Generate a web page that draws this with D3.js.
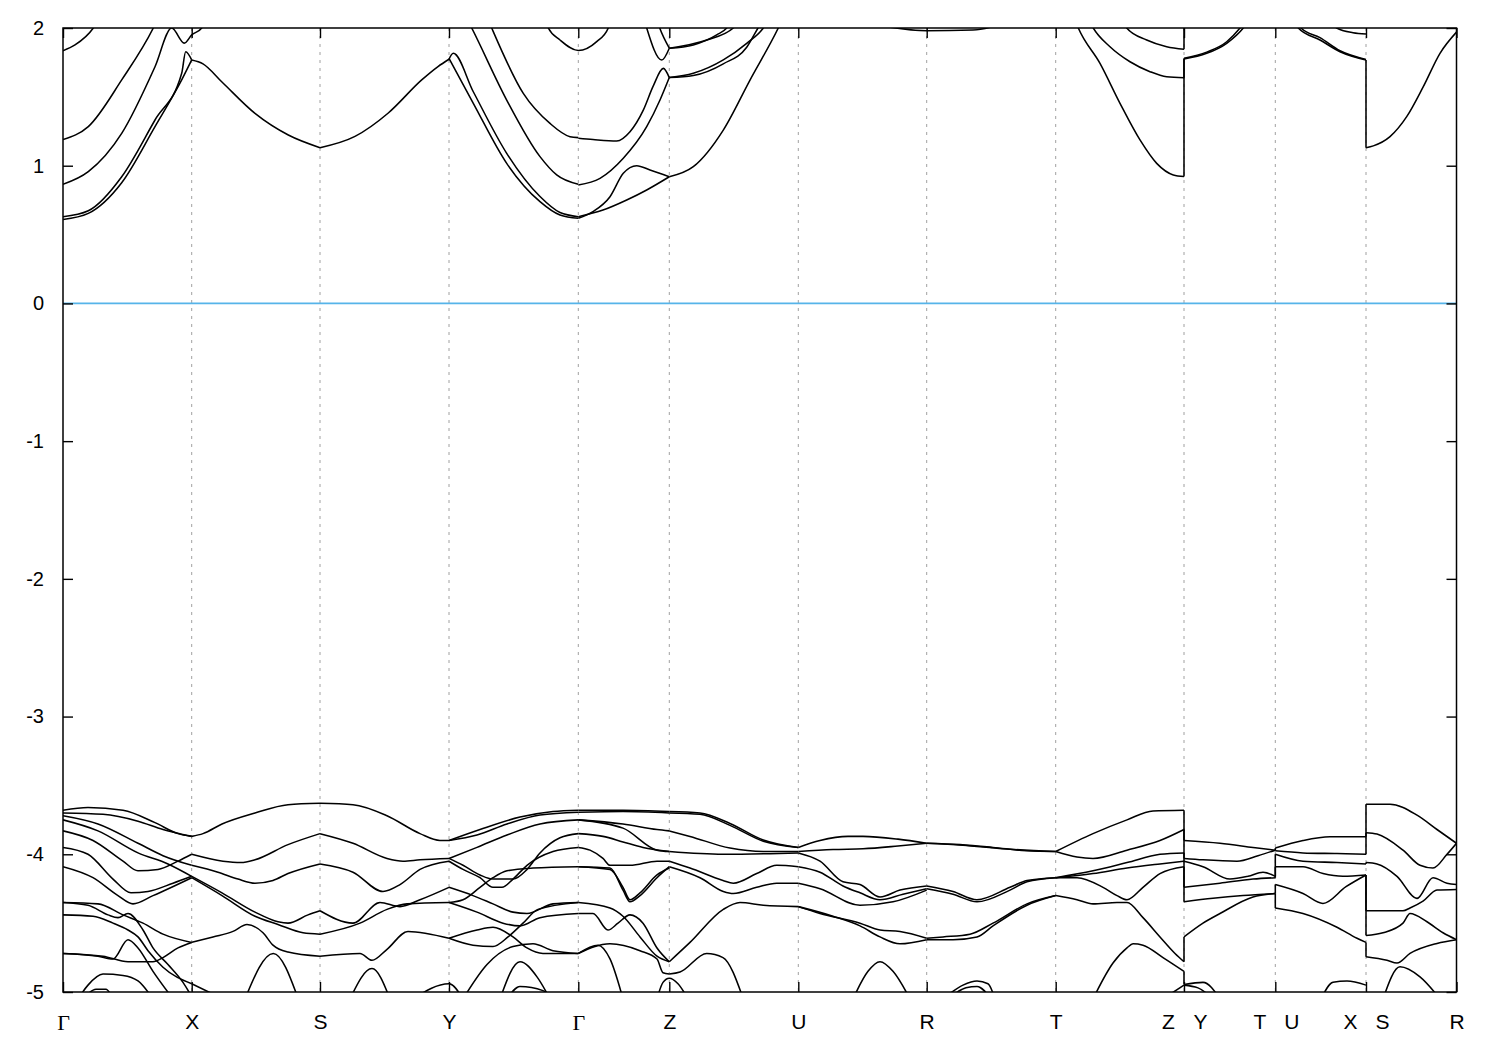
<!DOCTYPE html>
<html><head><meta charset="utf-8">
<script src="https://cdn.jsdelivr.net/npm/d3@7"></script>
<style>body{margin:0;background:#fff}svg{display:block}</style>
</head><body>
<svg id="chart" width="1500" height="1050"></svg>
<script>
// ---- axis data ----
const kTicks = [0, 0.1287, 0.257, 0.386, 0.5153, 0.6063, 0.7353, 0.8637, 0.9927, 1.121, 1.2123, 1.303, 1.3935];
const kLabels = ["Γ","X","S","Y","Γ","Z","U","R","T","Z|Y","T|U","X|S","R"];
const eTicks = [-5,-4,-3,-2,-1,0,1,2];

// ---- conduction bands: [k, E(eV)] ----
const condGX = [
 [[0,0.63],[0.0253,0.673],[0.0587,0.92],[0.092,1.332],[0.1187,1.671],[0.1227,1.828],[0.1287,1.768]],
 [[0,0.61],[0.0253,0.654],[0.0587,0.877],[0.092,1.284],[0.1187,1.623],[0.1287,1.768]],
 [[0,0.865],[0.0253,0.957],[0.0587,1.235],[0.092,1.719],[0.1087,2.0],[0.1213,1.89],[0.1287,1.95],[0.1387,2.0],[0.146,2.1]],
 [[0,1.19],[0.0253,1.284],[0.0587,1.623],[0.0903,2.0],[0.1,2.15]],
 [[0,1.835],[0.012,1.877],[0.0303,2.0],[0.04,2.12]]
];
const condXSY = [
 [[0.1287,1.768],[0.14,1.74],[0.1587,1.61],[0.192,1.38],[0.2253,1.223],[0.257,1.131]],
 [[0.257,1.131],[0.292,1.213],[0.3253,1.383],[0.3587,1.623],[0.375,1.72],[0.386,1.773]]
];
const condYG = [
 [[0.386,1.773],[0.3903,1.816],[0.4103,1.537],[0.4437,1.09],[0.477,0.776],[0.497,0.66],[0.5153,0.63]],
 [[0.386,1.779],[0.4103,1.453],[0.4437,1.017],[0.477,0.739],[0.497,0.642],[0.5153,0.618]],
 [[0.398,2.15],[0.4087,2.0],[0.4437,1.477],[0.477,1.066],[0.4937,0.933],[0.5153,0.865]],
 [[0.42,2.15],[0.4287,2.0],[0.4603,1.525],[0.487,1.307],[0.507,1.211],[0.5153,1.204]],
 [[0.478,2.15],[0.4853,2.0],[0.497,1.913],[0.5153,1.836],[0.5337,1.901],[0.5453,2.0],[0.552,2.15]]
];
const condGZU = [
 [[0.5153,0.618],[0.53,0.667],[0.547,0.775],[0.5603,0.945],[0.5737,1.0],[0.587,0.969],[0.6063,0.92]],
 [[0.5153,0.63],[0.54,0.678],[0.5637,0.751],[0.5837,0.824],[0.6063,0.92]],
 [[0.5153,0.86],[0.537,0.908],[0.5603,1.054],[0.5837,1.283],[0.597,1.477],[0.6063,1.64]],
 [[0.5153,1.199],[0.53,1.19],[0.5537,1.18],[0.567,1.247],[0.5803,1.404],[0.5903,1.58],[0.6003,1.707],[0.6063,1.64]],
 [[0.578,2.15],[0.5837,2.0],[0.5987,1.767],[0.6063,1.853]],
 [[0.59,2.15],[0.5967,2.0],[0.6063,1.853]],
 [[0.6063,0.92],[0.6303,0.993],[0.6603,1.259],[0.687,1.622],[0.7153,2.0],[0.725,2.15]],
 [[0.6063,1.64],[0.6303,1.671],[0.6603,1.768],[0.6837,1.889],[0.7003,2.0],[0.71,2.12]],
 [[0.6063,1.64],[0.6303,1.655],[0.6603,1.74],[0.6837,1.86],[0.695,2.0],[0.705,2.12]],
 [[0.6063,1.853],[0.6437,1.913],[0.6703,2.0],[0.68,2.08]],
 [[0.6063,1.853],[0.6303,1.877],[0.6537,1.95],[0.6637,2.0],[0.672,2.1]],
 [[0.815,2.02],[0.8637,1.98],[0.91,1.985],[0.935,2.02]]
];
const condTZ = [
 [[1.005,2.2],[1.0153,2.0],[1.037,1.743],[1.057,1.453],[1.077,1.187],[1.0937,1.017],[1.1103,0.933],[1.121,0.921]],
 [[1.022,2.12],[1.0303,2.0],[1.047,1.864],[1.067,1.755],[1.087,1.683],[1.1037,1.646],[1.121,1.639]],
 [[1.055,2.1],[1.0637,2.0],[1.0837,1.913],[1.1037,1.864],[1.121,1.845]]
];
const condYTUXSR = [
 [[1.121,1.775],[1.1437,1.816],[1.1637,1.889],[1.1803,2.0],[1.19,2.1]],
 [[1.121,1.78],[1.1437,1.825],[1.1637,1.90],[1.177,2.0],[1.187,2.1]],
 [[1.121,2.2],[1.13,2.3]],
 [[1.225,2.15],[1.2353,2.0],[1.257,1.913],[1.277,1.828],[1.303,1.768]],
 [[1.228,2.15],[1.238,2.0],[1.257,1.93],[1.277,1.835],[1.303,1.772]],
 [[1.265,2.08],[1.2737,2.0],[1.29,1.966],[1.303,1.957]],
 [[1.303,1.131],[1.3103,1.144],[1.327,1.211],[1.3437,1.356],[1.3603,1.574],[1.377,1.816],[1.3935,1.97]]
];

// ---- valence bands: [k, E(eV)] ----
const valGX = [
 [[0,-3.68],[0.025,-3.66],[0.06,-3.68],[0.092,-3.77],[0.115,-3.85],[0.1287,-3.87]],
 [[0,-3.70],[0.04,-3.71],[0.075,-3.76],[0.10,-3.82],[0.1287,-3.87]],
 [[0,-3.72],[0.035,-3.78],[0.075,-3.92],[0.10,-4.01],[0.1287,-4.08]],
 [[0,-3.75],[0.035,-3.83],[0.075,-3.99],[0.105,-4.07],[0.1287,-4.16]],
 [[0,-3.83],[0.03,-3.90],[0.06,-4.05],[0.075,-4.12],[0.095,-4.11],[0.115,-4.05],[0.1287,-4.00]],
 [[0,-3.95],[0.025,-4.00],[0.05,-4.18],[0.068,-4.28],[0.085,-4.27],[0.11,-4.21],[0.1287,-4.16]],
 [[0,-4.09],[0.03,-4.17],[0.055,-4.30],[0.07,-4.36],[0.09,-4.30],[0.1287,-4.17]],
 [[0,-4.35],[0.035,-4.36],[0.06,-4.44],[0.08,-4.50],[0.10,-4.58],[0.1287,-4.64]],
 [[0,-4.35],[0.025,-4.37],[0.045,-4.44],[0.055,-4.46],[0.065,-4.43],[0.08,-4.55],[0.09,-4.68],[0.105,-4.80],[0.12,-4.93],[0.13,-5.05]],
 [[0,-4.44],[0.03,-4.45],[0.05,-4.50],[0.065,-4.55],[0.075,-4.60],[0.085,-4.70],[0.10,-4.82],[0.1287,-4.94]],
 [[0,-4.72],[0.035,-4.74],[0.05,-4.76],[0.065,-4.62],[0.075,-4.68],[0.09,-4.85],[0.11,-5.05]],
 [[0,-4.72],[0.04,-4.74],[0.065,-4.78],[0.09,-4.78],[0.10,-4.75],[0.115,-4.68],[0.1287,-4.64]],
 [[0.015,-5.05],[0.025,-4.95],[0.04,-4.87],[0.06,-4.88],[0.075,-4.92],[0.09,-5.05]],
 [[0.02,-5.05],[0.033,-4.98],[0.043,-4.98],[0.05,-5.05]]
];
const valXS = [
 [[0.1287,-3.87],[0.14,-3.85],[0.159,-3.78],[0.192,-3.70],[0.225,-3.64],[0.257,-3.63]],
 [[0.1287,-4.00],[0.16,-4.05],[0.178,-4.06],[0.192,-4.04],[0.225,-3.93],[0.257,-3.85]],
 [[0.1287,-4.08],[0.155,-4.13],[0.175,-4.18],[0.192,-4.21],[0.21,-4.19],[0.225,-4.14],[0.257,-4.07]],
 [[0.1287,-4.16],[0.159,-4.28],[0.192,-4.42],[0.215,-4.49],[0.225,-4.50],[0.245,-4.44],[0.257,-4.41]],
 [[0.1287,-4.17],[0.159,-4.30],[0.192,-4.45],[0.215,-4.51],[0.24,-4.57],[0.257,-4.58]],
 [[0.1287,-4.64],[0.15,-4.60],[0.17,-4.56],[0.184,-4.51],[0.20,-4.57],[0.21,-4.66],[0.225,-4.71],[0.257,-4.74]],
 [[0.182,-5.05],[0.2103,-4.72],[0.2353,-5.05]],
 [[0.1287,-4.94],[0.16,-5.05]]
];
const valSY = [
 [[0.257,-3.63],[0.29,-3.64],[0.324,-3.72],[0.357,-3.85],[0.377,-3.90],[0.386,-3.90]],
 [[0.257,-3.85],[0.29,-3.92],[0.324,-4.03],[0.34,-4.05],[0.357,-4.04],[0.386,-4.03]],
 [[0.257,-4.07],[0.29,-4.13],[0.32,-4.27],[0.337,-4.22],[0.357,-4.11],[0.386,-4.05]],
 [[0.257,-4.41],[0.29,-4.50],[0.317,-4.35],[0.337,-4.38],[0.357,-4.33],[0.386,-4.24]],
 [[0.257,-4.58],[0.297,-4.50],[0.324,-4.40],[0.344,-4.36],[0.386,-4.35]],
 [[0.257,-4.74],[0.297,-4.72],[0.309,-4.77],[0.324,-4.69],[0.345,-4.56],[0.386,-4.61]],
 [[0.287,-5.05],[0.309,-4.83],[0.327,-5.05]],
 [[0.35,-5.05],[0.386,-4.94],[0.40,-5.05]]
];
const valYG = [
 [[0.386,-3.90],[0.417,-3.82],[0.457,-3.73],[0.49,-3.69],[0.5153,-3.68]],
 [[0.386,-3.90],[0.414,-3.86],[0.444,-3.78],[0.477,-3.715],[0.5153,-3.695]],
 [[0.386,-4.03],[0.414,-3.95],[0.444,-3.86],[0.477,-3.78],[0.5153,-3.75]],
 [[0.386,-4.03],[0.40,-4.08],[0.417,-4.15],[0.43,-4.18],[0.45,-4.18],[0.464,-4.11],[0.477,-3.99],[0.497,-3.88],[0.5153,-3.85]],
 [[0.386,-4.05],[0.40,-4.11],[0.417,-4.17],[0.43,-4.24],[0.439,-4.24],[0.45,-4.18],[0.464,-4.08],[0.49,-3.98],[0.5153,-3.95]],
 [[0.386,-4.35],[0.40,-4.33],[0.417,-4.24],[0.43,-4.17],[0.444,-4.12],[0.47,-4.10],[0.5153,-4.09]],
 [[0.386,-4.24],[0.41,-4.30],[0.43,-4.36],[0.45,-4.42],[0.464,-4.43],[0.49,-4.36],[0.5153,-4.35]],
 [[0.386,-4.35],[0.414,-4.42],[0.44,-4.50],[0.457,-4.52],[0.477,-4.46],[0.5153,-4.43]],
 [[0.386,-4.61],[0.414,-4.55],[0.43,-4.53],[0.45,-4.60],[0.464,-4.68],[0.48,-4.72],[0.5153,-4.72]],
 [[0.386,-4.61],[0.41,-4.66],[0.43,-4.67],[0.445,-4.60],[0.46,-4.50],[0.475,-4.40],[0.5153,-4.35]],
 [[0.40,-5.05],[0.424,-4.80],[0.45,-4.67],[0.47,-4.65],[0.49,-4.70],[0.5153,-4.72]],
 [[0.437,-5.05],[0.457,-4.78],[0.474,-4.89],[0.487,-5.05]],
 [[0.444,-5.05],[0.457,-4.96],[0.48,-4.99],[0.49,-5.05]]
];
const valGZ = [
 [[0.5153,-3.68],[0.56,-3.68],[0.6063,-3.69]],
 [[0.5153,-3.695],[0.56,-3.69],[0.6063,-3.70]],
 [[0.5153,-3.75],[0.56,-3.78],[0.594,-3.82],[0.6063,-3.83]],
 [[0.5153,-3.75],[0.56,-3.81],[0.594,-3.97],[0.6063,-3.98]],
 [[0.5153,-3.85],[0.54,-3.87],[0.56,-3.91],[0.58,-3.95],[0.6063,-3.98]],
 [[0.5153,-3.95],[0.527,-3.97],[0.54,-4.03],[0.547,-4.08],[0.567,-4.08],[0.594,-4.05],[0.6063,-4.05]],
 [[0.5153,-4.09],[0.547,-4.10],[0.56,-4.26],[0.567,-4.345],[0.577,-4.30],[0.594,-4.17],[0.6063,-4.09]],
 [[0.5153,-4.09],[0.547,-4.11],[0.56,-4.24],[0.567,-4.33],[0.577,-4.28],[0.594,-4.15],[0.6063,-4.10]],
 [[0.5153,-4.35],[0.547,-4.39],[0.56,-4.45],[0.577,-4.60],[0.594,-4.74],[0.6063,-4.78]],
 [[0.5153,-4.43],[0.53,-4.43],[0.545,-4.55],[0.555,-4.50],[0.567,-4.44],[0.58,-4.50],[0.594,-4.68],[0.6063,-4.78]],
 [[0.5153,-4.72],[0.547,-4.65],[0.577,-4.70],[0.594,-4.76],[0.60,-4.86],[0.6063,-4.87]],
 [[0.5153,-4.72],[0.535,-4.66],[0.547,-4.76],[0.56,-5.05]],
 [[0.594,-5.05],[0.60,-4.93],[0.6063,-4.90],[0.615,-4.94],[0.625,-5.05]]
];
const valZU = [
 [[0.6063,-3.69],[0.637,-3.70],[0.667,-3.776],[0.7003,-3.897],[0.7353,-3.95]],
 [[0.6063,-3.70],[0.637,-3.71],[0.667,-3.79],[0.7003,-3.905],[0.7353,-3.95]],
 [[0.6063,-3.83],[0.627,-3.87],[0.667,-3.955],[0.7003,-3.98],[0.7353,-3.98]],
 [[0.6063,-3.98],[0.66,-4.0],[0.7353,-3.99]],
 [[0.6063,-4.05],[0.627,-4.10],[0.66,-4.19],[0.6703,-4.21],[0.6937,-4.14],[0.7137,-4.08],[0.7353,-4.09]],
 [[0.6063,-4.09],[0.637,-4.17],[0.6603,-4.27],[0.6703,-4.285],[0.6937,-4.24],[0.7137,-4.21],[0.7353,-4.21]],
 [[0.6063,-4.78],[0.627,-4.64],[0.6603,-4.40],[0.677,-4.35],[0.7003,-4.37],[0.7353,-4.38]],
 [[0.6063,-4.87],[0.617,-4.855],[0.6437,-4.72],[0.66,-4.75],[0.6803,-5.05]]
];
const valUR = [
 [[0.7353,-3.95],[0.757,-3.90],[0.785,-3.87],[0.80,-3.87],[0.835,-3.89],[0.8637,-3.92]],
 [[0.7353,-3.98],[0.77,-3.965],[0.80,-3.96],[0.835,-3.94],[0.8637,-3.92]],
 [[0.7353,-3.99],[0.757,-4.05],[0.78,-4.20],[0.797,-4.22],[0.817,-4.31],[0.837,-4.26],[0.8637,-4.23]],
 [[0.7353,-4.09],[0.757,-4.13],[0.78,-4.23],[0.797,-4.28],[0.817,-4.33],[0.84,-4.29],[0.8637,-4.25]],
 [[0.7353,-4.21],[0.757,-4.25],[0.797,-4.37],[0.83,-4.345],[0.8637,-4.26]],
 [[0.7353,-4.38],[0.757,-4.43],[0.797,-4.50],[0.817,-4.55],[0.837,-4.56],[0.8637,-4.61]],
 [[0.7353,-4.38],[0.77,-4.45],[0.797,-4.52],[0.817,-4.60],[0.837,-4.65],[0.8637,-4.62]],
 [[0.79,-5.05],[0.805,-4.85],[0.817,-4.78],[0.83,-4.85],[0.847,-5.05]]
];
const valRT = [
 [[0.8637,-3.92],[0.897,-3.93],[0.93,-3.95],[0.964,-3.975],[0.9927,-3.98]],
 [[0.8637,-3.92],[0.90,-3.935],[0.94,-3.96],[0.9927,-3.98]],
 [[0.8637,-4.23],[0.89,-4.27],[0.914,-4.33],[0.947,-4.24],[0.964,-4.19],[0.9927,-4.17]],
 [[0.8637,-4.25],[0.89,-4.29],[0.914,-4.345],[0.947,-4.26],[0.964,-4.20],[0.9927,-4.17]],
 [[0.8637,-4.61],[0.88,-4.60],[0.907,-4.58],[0.93,-4.50],[0.964,-4.36],[0.9927,-4.30]],
 [[0.8637,-4.62],[0.89,-4.62],[0.914,-4.60],[0.93,-4.52],[0.964,-4.37],[0.9927,-4.30]],
 [[0.88,-5.05],[0.90,-4.95],[0.914,-4.92],[0.925,-4.94],[0.932,-5.05]],
 [[0.885,-5.05],[0.903,-4.97],[0.914,-4.96],[0.928,-5.05]]
];
const valTZ = [
 [[0.9927,-3.98],[1.03,-3.85],[1.064,-3.75],[1.09,-3.685],[1.121,-3.68]],
 [[0.9927,-3.98],[1.014,-4.02],[1.03,-4.03],[1.064,-3.97],[1.097,-3.90],[1.121,-3.82]],
 [[0.9927,-4.17],[1.03,-4.12],[1.064,-4.06],[1.097,-4.00],[1.121,-3.99]],
 [[0.9927,-4.17],[1.03,-4.14],[1.064,-4.10],[1.097,-4.07],[1.121,-4.05]],
 [[0.9927,-4.17],[1.014,-4.17],[1.04,-4.24],[1.054,-4.30],[1.064,-4.33],[1.08,-4.24],[1.097,-4.14],[1.121,-4.09]],
 [[0.9927,-4.30],[1.014,-4.33],[1.03,-4.36],[1.054,-4.35],[1.064,-4.35],[1.08,-4.46],[1.097,-4.60],[1.112,-4.72],[1.121,-4.78]],
 [[1.03,-5.05],[1.05,-4.79],[1.064,-4.68],[1.07,-4.65],[1.08,-4.66],[1.10,-4.75],[1.121,-4.85]],
 [[1.10,-5.05],[1.121,-4.95]]
];
const valYT = [
 [[1.121,-3.90],[1.157,-3.92],[1.19,-3.95],[1.2123,-3.97]],
 [[1.121,-4.03],[1.14,-4.04],[1.174,-4.05],[1.195,-4.01],[1.2123,-3.97]],
 [[1.121,-4.05],[1.14,-4.09],[1.167,-4.18],[1.185,-4.16],[1.20,-4.13],[1.2123,-4.16]],
 [[1.121,-4.24],[1.157,-4.21],[1.19,-4.18],[1.2123,-4.17]],
 [[1.121,-4.345],[1.15,-4.32],[1.18,-4.30],[1.2123,-4.285]],
 [[1.121,-4.60],[1.14,-4.50],[1.157,-4.43],[1.19,-4.31],[1.2123,-4.285]],
 [[1.121,-4.945],[1.14,-4.93],[1.157,-5.05]],
 [[1.121,-4.95],[1.135,-4.97],[1.15,-5.05]]
];
const valUX = [
 [[1.2123,-3.955],[1.24,-3.90],[1.267,-3.873],[1.303,-3.873]],
 [[1.2123,-3.975],[1.24,-3.99],[1.274,-3.995],[1.303,-4.0]],
 [[1.2123,-4.0],[1.24,-4.05],[1.274,-4.06],[1.303,-4.07]],
 [[1.2123,-4.09],[1.24,-4.09],[1.26,-4.14],[1.28,-4.16],[1.303,-4.15]],
 [[1.2123,-4.22],[1.24,-4.285],[1.26,-4.357],[1.283,-4.235],[1.303,-4.15]],
 [[1.2123,-4.39],[1.24,-4.43],[1.274,-4.53],[1.294,-4.61],[1.303,-4.64]],
 [[1.258,-5.05],[1.27,-4.93],[1.284,-4.92],[1.303,-4.95]]
];
const valSR = [
 [[1.303,-3.636],[1.327,-3.636],[1.354,-3.716],[1.374,-3.82],[1.3935,-3.92]],
 [[1.303,-3.843],[1.314,-3.853],[1.34,-3.97],[1.357,-4.08],[1.37,-4.10],[1.384,-4.0],[1.3935,-3.92]],
 [[1.303,-4.06],[1.314,-4.07],[1.334,-4.16],[1.354,-4.32],[1.37,-4.17],[1.384,-4.21],[1.3935,-4.22]],
 [[1.303,-4.41],[1.34,-4.41],[1.347,-4.39],[1.36,-4.34],[1.374,-4.26],[1.3935,-4.255]],
 [[1.303,-4.59],[1.32,-4.57],[1.34,-4.50],[1.347,-4.43],[1.364,-4.49],[1.38,-4.57],[1.3935,-4.62]],
 [[1.303,-4.744],[1.324,-4.77],[1.334,-4.79],[1.347,-4.72],[1.374,-4.647],[1.3935,-4.62]],
 [[1.32,-5.05],[1.337,-4.817],[1.357,-4.89],[1.377,-5.05]]
];

// ---- drawing ----
const L = 63, R = 1456.5, T = 28, B = 992;
const x = d3.scaleLinear().domain([0, kTicks[kTicks.length - 1]]).range([L, R]);
const y = d3.scaleLinear().domain([-5, 2]).range([B, T]);
const svg = d3.select('#chart');
svg.append('rect').attr('width',1500).attr('height',1050).attr('fill','#fff');
svg.append('defs').append('clipPath').attr('id','clip')
  .append('rect').attr('x',L).attr('y',T).attr('width',R-L).attr('height',B-T);

// grid
svg.append('g').selectAll('line').data(kTicks.slice(1,-1)).join('line')
  .attr('x1',d=>x(d)).attr('x2',d=>x(d)).attr('y1',T).attr('y2',B)
  .attr('stroke','#a0a0a0').attr('stroke-width',1).attr('stroke-dasharray','3,5');

// Fermi level
svg.append('line').attr('x1',L).attr('x2',R).attr('y1',y(0)).attr('y2',y(0))
  .attr('stroke','#56b4e9').attr('stroke-width',1.7);

const allBands = [].concat(condGX, condXSY, condYG, condGZU, condTZ, condYTUXSR,
  valGX, valXS, valSY, valYG, valGZ, valZU, valUR, valRT, valTZ, valYT, valUX, valSR);

const line = d3.line().x(d=>x(d[0])).y(d=>y(d[1])).curve(d3.curveMonotoneX);
const gb = svg.append('g').attr('clip-path','url(#clip)');
gb.selectAll('path.band').data(allBands).join('path').attr('class','band')
  .attr('d', line).attr('fill','none').attr('stroke','#000')
  .attr('stroke-width',1.55).attr('stroke-linejoin','round');

// vertical connectors at path discontinuities (band index order)
const jumps = [kTicks[9], kTicks[10], kTicks[11]];
const conn = [];
jumps.forEach(kj => {
  const ends = allBands.filter(b => Math.abs(b[b.length-1][0]-kj) < 1e-6).map(b => b[b.length-1][1]);
  const starts = allBands.filter(b => Math.abs(b[0][0]-kj) < 1e-6).map(b => b[0][1]);
  const ce = ends.filter(e=>e>0).sort((a,b)=>a-b), cs = starts.filter(e=>e>0).sort((a,b)=>a-b);
  const ve = ends.filter(e=>e<0).sort((a,b)=>b-a), vs = starts.filter(e=>e<0).sort((a,b)=>b-a);
  for (let i=0;i<Math.min(ce.length,cs.length);i++) conn.push([kj,ce[i],cs[i]]);
  for (let i=0;i<Math.min(ve.length,vs.length);i++) conn.push([kj,ve[i],vs[i]]);
});
gb.selectAll('line.conn').data(conn).join('line').attr('class','conn')
  .attr('x1',d=>x(d[0])).attr('x2',d=>x(d[0])).attr('y1',d=>y(d[1])).attr('y2',d=>y(d[2]))
  .attr('stroke','#000').attr('stroke-width',1.55);

// axes
const fontSans = "'Liberation Sans', Arial, sans-serif";
const yAxisL = svg.append('g').attr('transform',`translate(${L},0)`)
  .call(d3.axisLeft(y).tickValues(eTicks).tickSize(-10).tickPadding(19).tickFormat(d => String(d)));
const yAxisR = svg.append('g').attr('transform',`translate(${R},0)`)
  .call(d3.axisRight(y).tickValues(eTicks).tickSize(-10).tickFormat(''));
const xAxisB = svg.append('g').attr('transform',`translate(0,${B})`)
  .call(d3.axisBottom(x).tickValues(kTicks).tickSize(-10).tickPadding(22).tickFormat((d,i)=>kLabels[i]));
const xAxisT = svg.append('g').attr('transform',`translate(0,${T})`)
  .call(d3.axisTop(x).tickValues(kTicks).tickSize(-10).tickFormat(''));
[yAxisL,yAxisR,xAxisB,xAxisT].forEach(a=>{
  a.select('.domain').remove();
  a.selectAll('.tick line').attr('stroke','#000').attr('stroke-width',1.4);
  a.selectAll('text').attr('font-family',fontSans).attr('font-size',20).attr('fill','#000');
});
xAxisB.selectAll('.tick text').each(function(d,i){
  const t = d3.select(this), lab = kLabels[i];
  t.attr('font-size',21);
  if (lab === 'Γ') t.attr('font-family',"'Liberation Serif', 'Times New Roman', serif").attr('font-size',22);
  if (lab.includes('|')) {
    const parts = lab.split('|');
    t.text(null);
    t.append('tspan').attr('x',-16).text(parts[0]);
    t.append('tspan').attr('x',16).text(parts[1]);
  }
});

// border
svg.append('rect').attr('x',L).attr('y',T).attr('width',R-L).attr('height',B-T)
  .attr('fill','none').attr('stroke','#000').attr('stroke-width',1.5);
</script>
</body></html>
